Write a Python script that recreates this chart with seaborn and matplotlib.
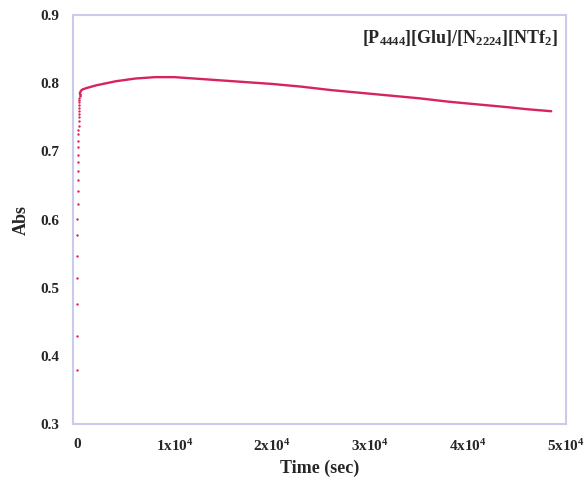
import matplotlib
matplotlib.use("Agg")
import matplotlib.pyplot as plt
import seaborn as sns
import pandas as pd
from matplotlib.ticker import FixedLocator, FixedFormatter

# early rising measurements (discrete points)
rise_time = [20, 30, 40, 50, 60, 70, 80, 90, 100, 110, 120, 130, 140, 150, 160,
             170, 180, 190, 200, 210, 220, 230, 240, 250, 260, 270, 280, 290, 300, 310]
rise_abs = [0.379, 0.429, 0.476, 0.514, 0.546, 0.577, 0.601, 0.623, 0.642, 0.658,
            0.672, 0.684, 0.695, 0.706, 0.716, 0.725, 0.732, 0.738, 0.744, 0.750,
            0.755, 0.760, 0.764, 0.768, 0.772, 0.775, 0.778, 0.781, 0.783, 0.785]

# later dense record (appears as a continuous trace)
curve_time = [310, 400, 500, 600, 800, 1000, 1500, 2000, 3000, 4000, 5000, 6000,
              7000, 8000, 9000, 10000, 12000, 14000, 16000, 18000, 20000, 23000,
              26000, 29000, 32000, 35000, 38000, 41000, 44000, 46000, 48500]
curve_abs = [0.785, 0.788, 0.790, 0.791, 0.792, 0.793, 0.795, 0.797, 0.800, 0.803,
             0.805, 0.807, 0.808, 0.809, 0.809, 0.809, 0.807, 0.805, 0.803, 0.801,
             0.799, 0.795, 0.790, 0.786, 0.782, 0.778, 0.773, 0.769, 0.765, 0.762,
             0.759]

x_ticks = [0, 10000, 20000, 30000, 40000, 50000]
x_tick_labels = ["0", "1x10$^{4}$", "2x10$^{4}$", "3x10$^{4}$", "4x10$^{4}$", "5x10$^{4}$"]
y_ticks = [0.3, 0.4, 0.5, 0.6, 0.7, 0.8, 0.9]

sns.set_theme(style="white")
plt.rcParams["font.family"] = ["Liberation Serif", "DejaVu Serif"]
plt.rcParams["font.weight"] = "bold"
plt.rcParams["mathtext.default"] = "regular"

color = "#D8245C"
fig = plt.figure(figsize=(5.87, 4.88), dpi=100)
ax = fig.add_axes([0.124, 0.131, 0.840, 0.838])

rise_df = pd.DataFrame({"t": rise_time, "a": rise_abs})
curve_df = pd.DataFrame({"t": curve_time, "a": curve_abs})
sns.lineplot(data=curve_df, x="t", y="a", ax=ax, color=color, linewidth=1.7)
sns.scatterplot(data=rise_df, x="t", y="a", ax=ax, color=color, s=3, linewidth=0)

ax.set_xlim(-400, 50000)
ax.set_ylim(0.3, 0.9)
ax.xaxis.set_major_locator(FixedLocator(x_ticks))
ax.xaxis.set_major_formatter(FixedFormatter(x_tick_labels))
ax.set_yticks(y_ticks)
ax.set_yticklabels([f"{v:.1f}" for v in y_ticks])
ax.tick_params(axis="both", length=0, labelsize=11, pad=10)
for lab in ax.get_xticklabels() + ax.get_yticklabels():
    lab.set_fontweight("bold")

for sp in ax.spines.values():
    sp.set_color("#CACAEE")
    sp.set_linewidth(1.5)

ax.set_xlabel("Time (sec)", fontsize=13, fontweight="bold", labelpad=4)
ax.set_ylabel("Abs", fontsize=13, fontweight="bold", labelpad=7)

ax.text(0.985, 0.945, "[P$_{4444}$][Glu]/[N$_{2224}$][NTf$_{2}$]", transform=ax.transAxes,
        ha="right", va="center", fontsize=13, fontweight="bold")

fig.savefig("out.png", dpi=100)
